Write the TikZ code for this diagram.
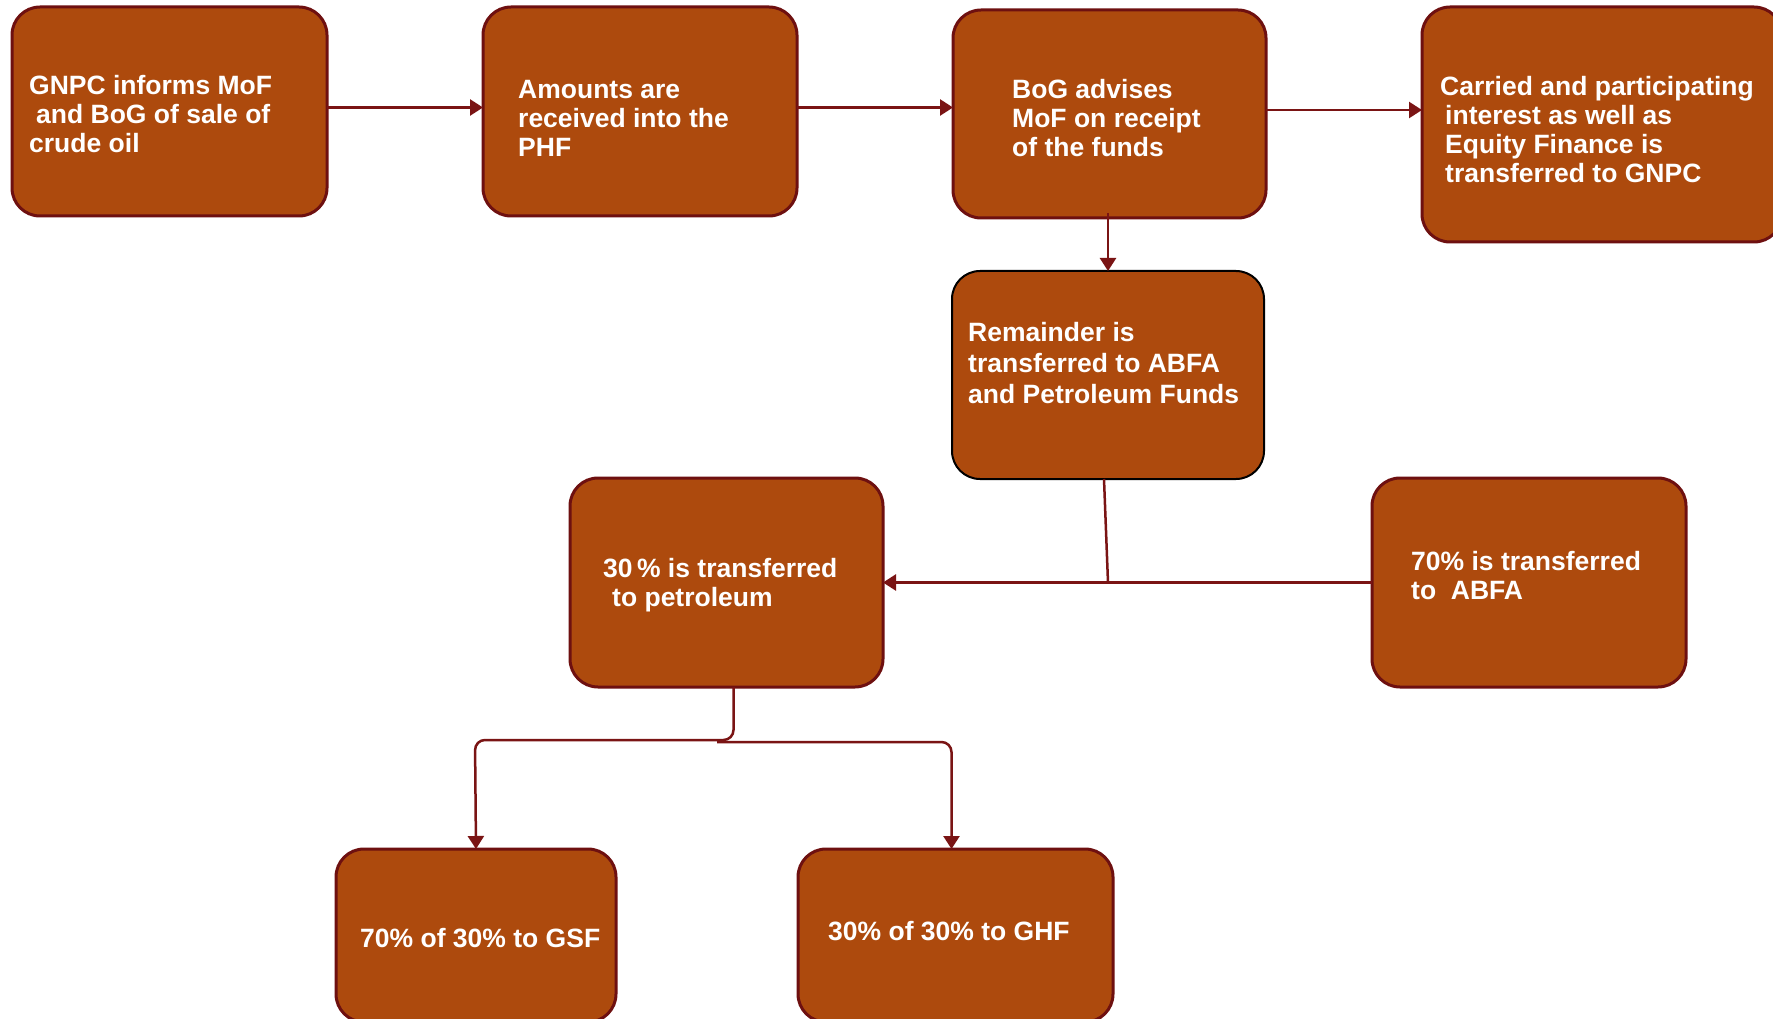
\documentclass[tikz,border=0pt]{standalone}
\usepackage{fontspec}
\setmainfont{Liberation Sans}
\usetikzlibrary{arrows.meta}
\definecolor{boxfill}{HTML}{AD4A0D}
\definecolor{boxline}{HTML}{6E1010}
\definecolor{conncol}{HTML}{7A1414}
\begin{document}
\begin{tikzpicture}[x=1pt,y=-1pt,
  box/.style={draw=boxline, line width=3pt, fill=boxfill, rounded corners=28pt, inner sep=0pt, outer sep=0pt},
  lbl/.style={anchor=west, align=left, text=white, inner sep=0pt, font=\bfseries\fontsize{26.5}{29}\selectfont},
  conn/.style={draw=conncol, line width=2.5pt},
  arrow/.style={conn, -{Triangle[length=13pt,width=16pt]}}]
\fill[white] (0,0) rectangle (1773,1019);
\useasboundingbox (0,0) rectangle (1773,1019);
% boxes
\node[box, minimum width=315pt, minimum height=209pt] (b1) at (169.5,111.5) {};
\node[box, minimum width=314pt, minimum height=209pt] (b2) at (640,111.5) {};
\node[box, minimum width=313pt, minimum height=208pt] (b3) at (1109.5,114) {};
\node[box, minimum width=360pt, minimum height=235pt] (b4) at (1602,124.5) {};
\node[box, draw=black, line width=2pt, minimum width=312pt, minimum height=208pt] (b5) at (1108,375) {};
\node[box, minimum width=313pt, minimum height=209pt] (b6) at (726.5,582.5) {};
\node[box, minimum width=314pt, minimum height=209pt] (b7) at (1529,582.5) {};
\node[box, minimum width=280pt, minimum height=173pt] (b8) at (476,935.5) {};
\node[box, minimum width=315pt, minimum height=173pt] (b9) at (955.5,935.5) {};
% texts
\node[lbl] (t1) at (29,114) {GNPC informs MoF\\\hspace{7pt}and BoG of sale of\\crude oil};
\node[lbl] (t2) at (518,118) {Amounts are\\received into the\\PHF};
\node[lbl] (t3) at (1012,118) {BoG advises\\MoF on receipt\\of the funds};
\node[lbl] (t4) at (1440,130) {Carried and participating\\\hspace{5pt}interest as well as\\\hspace{5pt}Equity Finance is\\\hspace{5pt}transferred to GNPC};
\node[lbl, font=\bfseries\fontsize{26.5}{31}\selectfont] (t5) at (968,363) {Remainder is\\transferred to ABFA\\and Petroleum Funds};
\node[lbl] (t6) at (603,585) {30\,\% is transferred\\\hspace{9pt}to petroleum};
\node[lbl] (t7) at (1411,576) {70\% is transferred\\to\ \ ABFA};
\node[lbl] (t8) at (360,938) {70\% of 30\% to GSF};
\node[lbl] (t9) at (828,931) {30\% of 30\% to GHF};
% connectors
\coordinate (a12) at ([yshift=4pt]b1.east);
\draw[arrow] (a12) -- (a12 -| b2.west);
\coordinate (a23) at ([yshift=4pt]b2.east);
\draw[arrow] (a23) -- (a23 -| b3.west);
\coordinate (a34) at ([yshift=4pt]b3.east);
\draw[arrow] (a34) -- (a34 -| b4.west);
\coordinate (a35) at ([yshift=5pt]b5.north |- b3.south);
\draw[arrow] (a35) -- (b5.north);
\draw[arrow] (b7.west) -- (b6.east);
\draw[conn] ([xshift=-4pt]b5.south) -- (b5.south |- b7.west);
\draw[arrow, rounded corners=10pt] ([xshift=7pt]b6.south) |- (475,740) -- (b8.north);
\coordinate (split) at (717,742);
\draw[arrow, rounded corners=10pt] (split) -| ([xshift=-4pt]b9.north);
\end{tikzpicture}
\end{document}
